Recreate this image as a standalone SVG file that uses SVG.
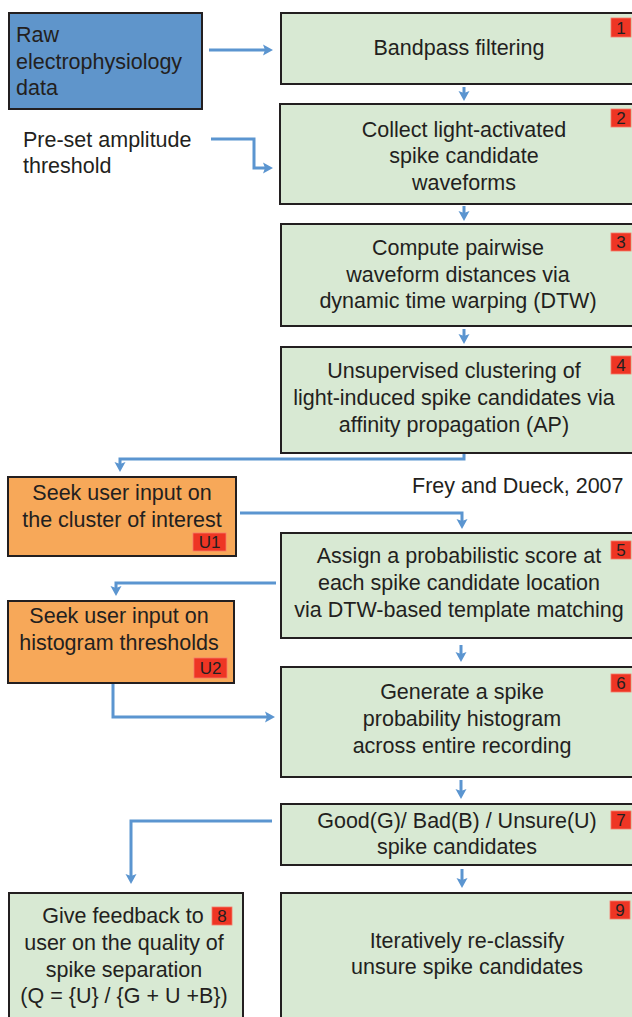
<svg xmlns="http://www.w3.org/2000/svg" width="632" height="1017" viewBox="0 0 632 1017">
<style>
  text { font-family: "Liberation Sans", Arial, sans-serif; font-size: 21.5px; fill: #231f20; }
  .c { text-anchor: middle; }
  .step { fill: #d8e9d3; stroke: #231f20; stroke-width: 2; }
  .user { fill: #f7a859; stroke: #231f20; stroke-width: 2; }
  .raw { fill: #5f95cb; stroke: #231f20; stroke-width: 2; }
  .badge { fill: #ee3524; stroke: #f47a6a; stroke-width: 0.8; }
  text.bt { font-size: 17px; text-anchor: middle; fill: #231f20; }
  .conn { fill: none; stroke: #5b95d0; stroke-width: 3; }
</style>
<defs>
  <marker id="ah" markerUnits="userSpaceOnUse" markerWidth="11" markerHeight="12" refX="4" refY="6" orient="auto" viewBox="0 0 11 12">
    <path d="M0,0.5 L10,6 L0,11.5 L2,6 z" fill="#5b95d0"/>
  </marker>
</defs>
<rect width="632" height="1017" fill="#ffffff"/>

<g id="connectors">
  <path class="conn" d="M209,50 H267" marker-end="url(#ah)"/>
  <path class="conn" d="M211,139 H254 V168 H267" marker-end="url(#ah)"/>
  <path class="conn" d="M464,87 V95" marker-end="url(#ah)"/>
  <path class="conn" d="M464,206 V215" marker-end="url(#ah)"/>
  <path class="conn" d="M464,329 V338" marker-end="url(#ah)"/>
  <path class="conn" d="M464,453 V459 H120 V466" marker-end="url(#ah)"/>
  <path class="conn" d="M240,513 H462 V523" marker-end="url(#ah)"/>
  <path class="conn" d="M276,583 H116 V590" marker-end="url(#ah)"/>
  <path class="conn" d="M113,683 V717 H269" marker-end="url(#ah)"/>
  <path class="conn" d="M461,645 V656" marker-end="url(#ah)"/>
  <path class="conn" d="M461,780 V793" marker-end="url(#ah)"/>
  <path class="conn" d="M272,821 H131 V878" marker-end="url(#ah)"/>
  <path class="conn" d="M462,869 V882" marker-end="url(#ah)"/>
</g>

<g id="raw">
  <rect class="raw" x="9" y="13" width="193" height="96"/>
  <text x="16" y="42">Raw</text>
  <text x="16" y="69">electrophysiology</text>
  <text x="16" y="95">data</text>
</g>

<g id="preset">
  <text x="23" y="147">Pre-set amplitude</text>
  <text x="23" y="173">threshold</text>
</g>

<g id="step1">
  <rect class="step" x="281" y="13" width="356" height="71"/>
  <text class="c" x="459" y="55">Bandpass filtering</text>
  <rect class="badge" x="611" y="18" width="20" height="19"/>
  <text class="bt" x="621" y="34">1</text>
</g>

<g id="step2">
  <rect class="step" x="280" y="104" width="357" height="100"/>
  <text class="c" x="464" y="137">Collect light-activated</text>
  <text class="c" x="464" y="163">spike candidate</text>
  <text class="c" x="464" y="190">waveforms</text>
  <rect class="badge" x="611" y="109" width="20" height="18"/>
  <text class="bt" x="621" y="124">2</text>
</g>

<g id="step3">
  <rect class="step" x="281" y="224" width="356" height="102"/>
  <text class="c" x="458" y="255">Compute pairwise</text>
  <text class="c" x="458" y="282">waveform distances via</text>
  <text class="c" x="458" y="308">dynamic time warping (DTW)</text>
  <rect class="badge" x="611" y="233" width="20" height="18"/>
  <text class="bt" x="621" y="248">3</text>
</g>

<g id="step4">
  <rect class="step" x="281" y="347" width="356" height="106"/>
  <text class="c" x="454" y="378">Unsupervised clustering of</text>
  <text class="c" x="454" y="405">light-induced spike candidates via</text>
  <text class="c" x="454" y="432">affinity propagation (AP)</text>
  <rect class="badge" x="611" y="356" width="20" height="18"/>
  <text class="bt" x="621" y="371">4</text>
</g>

<text x="412" y="493">Frey and Dueck, 2007</text>

<g id="user1">
  <rect class="user" x="8" y="477" width="228" height="79"/>
  <text class="c" x="122" y="500">Seek user input on</text>
  <text class="c" x="122" y="527">the cluster of interest</text>
  <rect class="badge" x="193" y="533" width="33" height="18"/>
  <text class="bt" x="209.5" y="548">U1</text>
</g>

<g id="step5">
  <rect class="step" x="281" y="533" width="356" height="105"/>
  <text class="c" x="459" y="563">Assign a probabilistic score at</text>
  <text class="c" x="459" y="590">each spike candidate location</text>
  <text class="c" x="459" y="617">via DTW-based template matching</text>
  <rect class="badge" x="611" y="541" width="20" height="18"/>
  <text class="bt" x="621" y="556">5</text>
</g>

<g id="user2">
  <rect class="user" x="8" y="601" width="226" height="82"/>
  <text class="c" x="119" y="623">Seek user input on</text>
  <text class="c" x="119" y="650">histogram thresholds</text>
  <rect class="badge" x="194" y="658" width="33" height="20"/>
  <text class="bt" x="210.5" y="674">U2</text>
</g>

<g id="step6">
  <rect class="step" x="281" y="667" width="356" height="110"/>
  <text class="c" x="462" y="699">Generate a spike</text>
  <text class="c" x="462" y="726">probability histogram</text>
  <text class="c" x="462" y="753">across entire recording</text>
  <rect class="badge" x="611" y="674" width="20" height="18"/>
  <text class="bt" x="621" y="689">6</text>
</g>

<g id="step7">
  <rect class="step" x="281" y="804" width="356" height="61"/>
  <text class="c" x="457" y="828">Good(G)/ Bad(B) / Unsure(U)</text>
  <text class="c" x="457" y="854">spike candidates</text>
  <rect class="badge" x="611" y="811" width="20" height="18"/>
  <text class="bt" x="621" y="826">7</text>
</g>

<g id="step8">
  <rect class="step" x="9" y="893" width="234" height="130"/>
  <text class="c" x="123" y="923">Give feedback to</text>
  <text class="c" x="124" y="950">user on the quality of</text>
  <text class="c" x="124" y="977">spike separation</text>
  <text class="c" x="124" y="1003">(Q = {U} / {G + U +B})</text>
  <rect class="badge" x="212" y="907" width="20" height="18"/>
  <text class="bt" x="222" y="922">8</text>
</g>

<g id="step9">
  <rect class="step" x="281" y="893" width="356" height="130"/>
  <text class="c" x="467" y="948">Iteratively re-classify</text>
  <text class="c" x="467" y="974">unsure spike candidates</text>
  <rect class="badge" x="610" y="901" width="20" height="18"/>
  <text class="bt" x="620" y="916">9</text>
</g>
</svg>
